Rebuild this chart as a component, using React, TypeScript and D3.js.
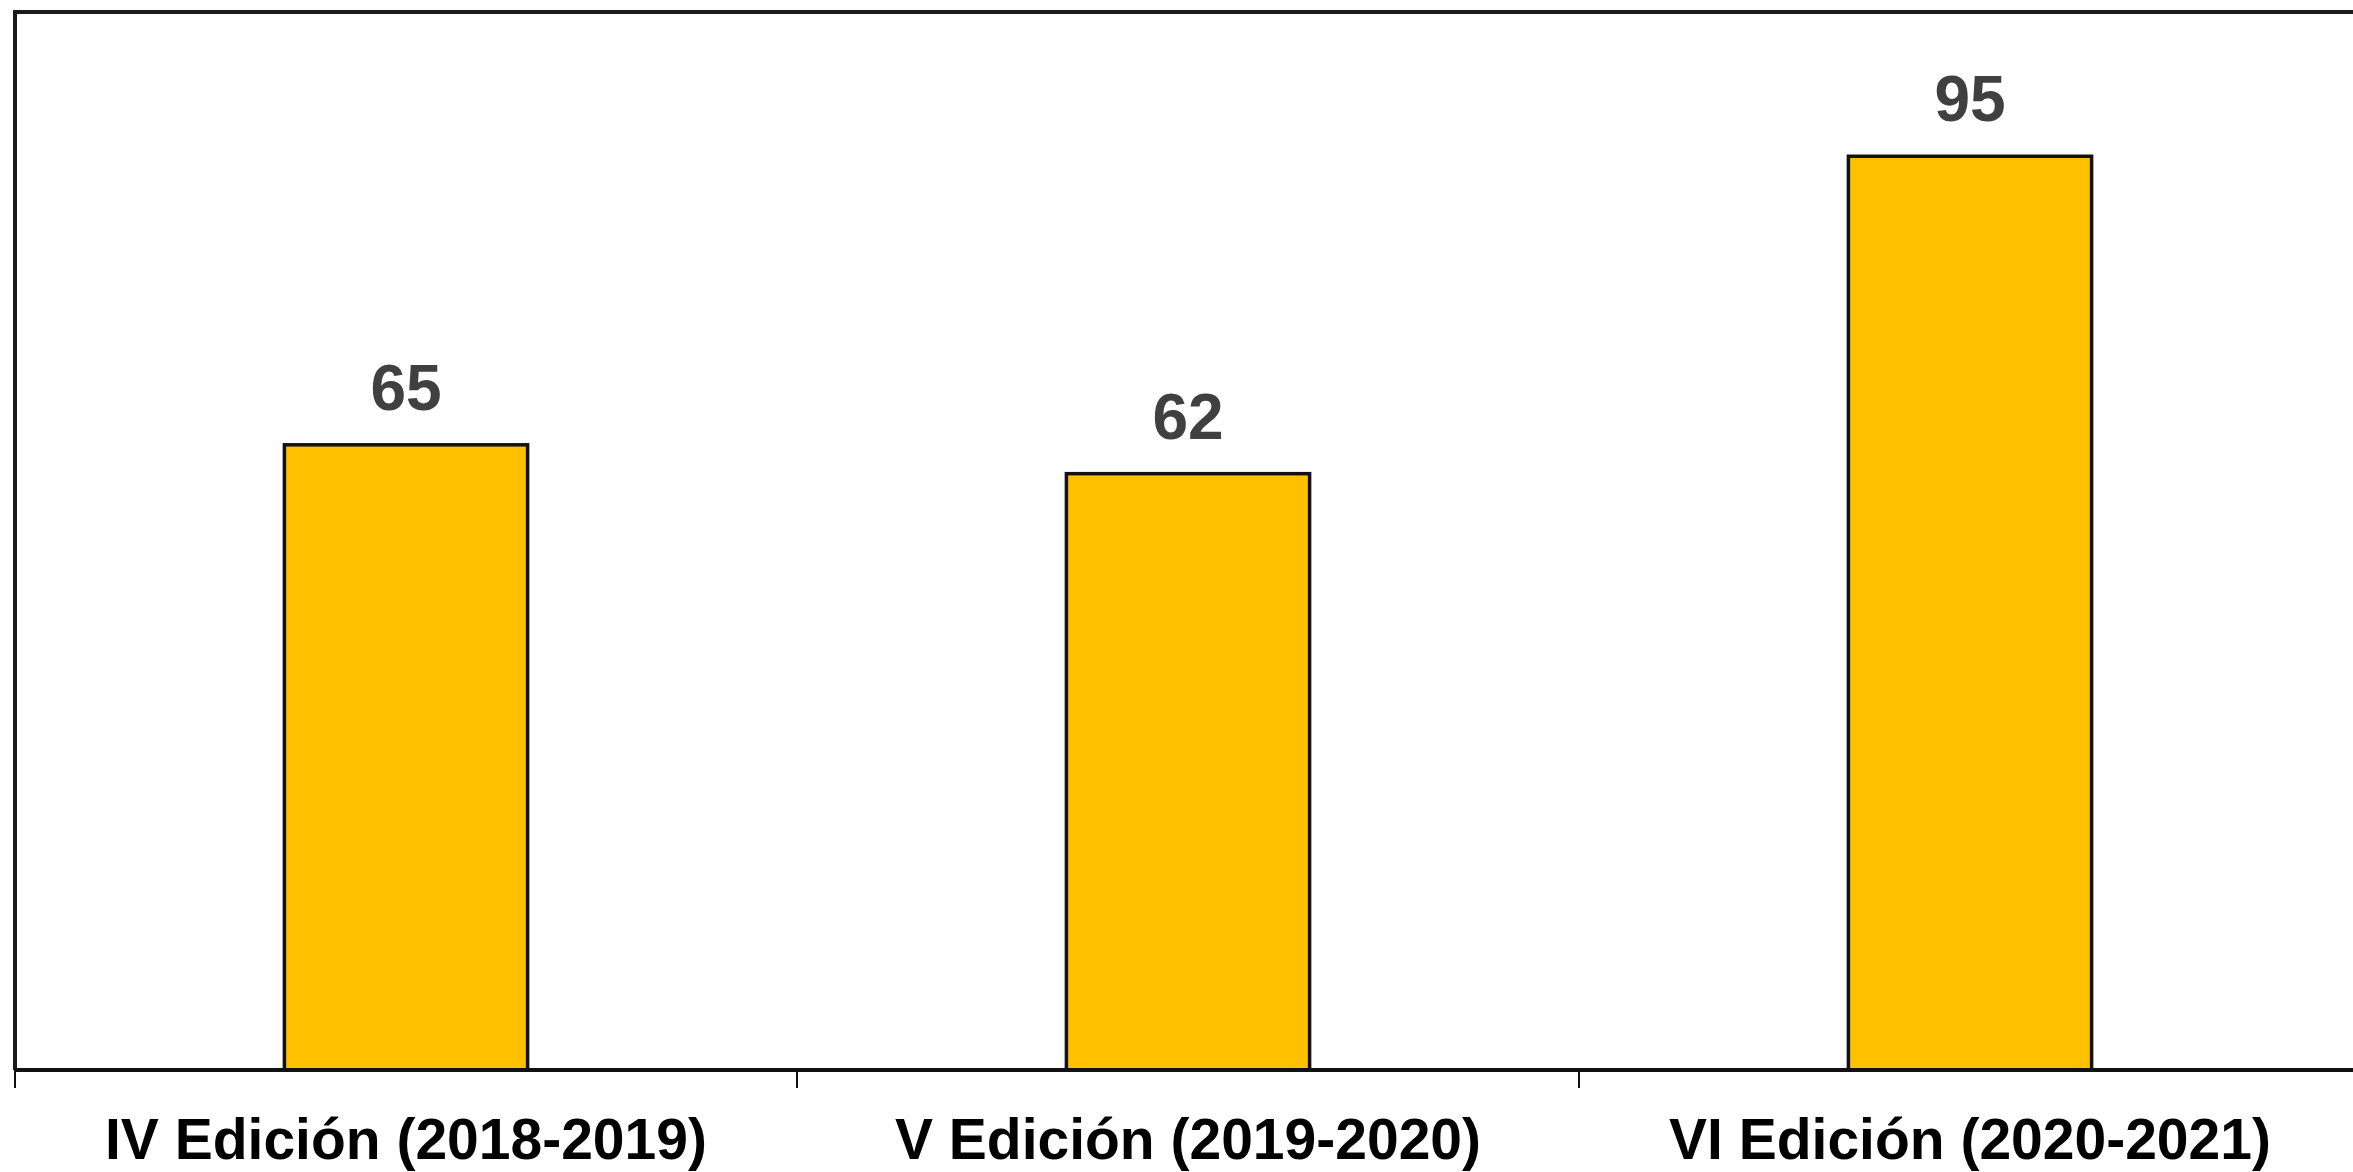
import React from "react";
import * as d3 from "d3";

const categories = ["IV Edición (2018-2019)", "V Edición (2019-2020)", "VI Edición (2020-2021)"];
const values = [65, 62, 95];
const yDomain = [0, 110];

const W = 2353;
const H = 1172;
const left = 15;
const top = 12;
const bottom = 1070;
const step = 782;

export default function App() {
  const x = d3.scaleBand<string>().domain(categories).range([left, left + step * categories.length]).padding(0);
  const y = d3.scaleLinear().domain(yDomain).range([bottom, top]);
  const bw = x.bandwidth() * 0.311;
  const tickXs = categories.map((c) => x(c) as number).concat([left + step * categories.length]);
  return (
    <svg width={W} height={H} style={{ position: "absolute", left: 0, top: 0, background: "#fff" }}>
      {/* frame */}
      <line x1={left - 2} x2={W} y1={top} y2={top} stroke="#1a1a1a" strokeWidth={4} />
      <line x1={left} x2={left} y1={top} y2={bottom} stroke="#1a1a1a" strokeWidth={4} />
      {categories.map((c, i) => {
        const cx = (x(c) as number) + x.bandwidth() / 2;
        const yv = y(values[i]);
        return (
          <g key={c}>
            <rect x={cx - bw / 2} y={yv} width={bw} height={bottom - yv} fill="#FFC000" stroke="#111" strokeWidth={3.5} />
            <text x={cx} y={yv - 35} textAnchor="middle" fontFamily="Liberation Sans, Arial, sans-serif" fontWeight="bold" fontSize={64} fill="#404040">
              {values[i]}
            </text>
            <text x={cx} y={1159} textAnchor="middle" fontFamily="Liberation Sans, Arial, sans-serif" fontWeight="bold" fontSize={57} fill="#000">
              {c}
            </text>
          </g>
        );
      })}
      <line x1={left} x2={W} y1={bottom} y2={bottom} stroke="#111" strokeWidth={4} />
      {tickXs.map((tx, i) => (
        <line key={i} x1={tx} x2={tx} y1={bottom} y2={bottom + 18} stroke="#111" strokeWidth={2} />
      ))}
    </svg>
  );
}
